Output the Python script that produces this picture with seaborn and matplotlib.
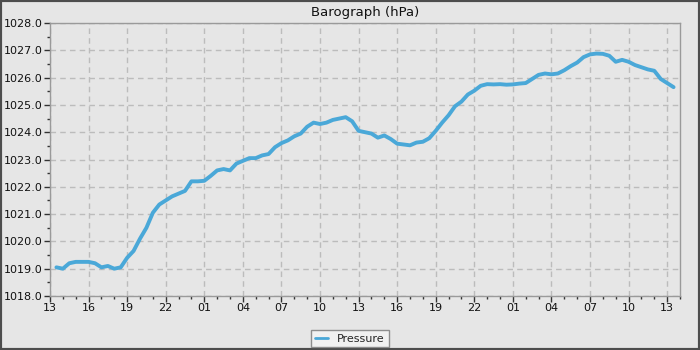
import matplotlib
matplotlib.use("Agg")
import matplotlib.pyplot as plt
import matplotlib.dates as mdates
from matplotlib.patches import Rectangle
from matplotlib.ticker import MultipleLocator, FormatStrFormatter
import seaborn as sns
import pandas as pd

# Pressure readings every 30 minutes, starting 13:30 on day 1
start_time = "2024-01-01 13:30"
pressure = [
    1019.05, 1019.0, 1019.2, 1019.25, 1019.25, 1019.25, 1019.2, 1019.05, 1019.1, 1019.0,
    1019.05, 1019.4, 1019.65, 1020.1, 1020.5, 1021.05, 1021.35, 1021.5, 1021.65, 1021.75,
    1021.85, 1022.2, 1022.2, 1022.22, 1022.4, 1022.6, 1022.65, 1022.6, 1022.85, 1022.95,
    1023.05, 1023.05, 1023.15, 1023.2, 1023.45, 1023.6, 1023.7, 1023.85, 1023.95, 1024.2,
    1024.35, 1024.3, 1024.35, 1024.45, 1024.5, 1024.55, 1024.4, 1024.05, 1024.0, 1023.95,
    1023.8, 1023.88, 1023.75, 1023.58, 1023.55, 1023.52, 1023.62, 1023.65, 1023.78, 1024.05,
    1024.35, 1024.62, 1024.95, 1025.12, 1025.38, 1025.52, 1025.7, 1025.76, 1025.75, 1025.76,
    1025.74, 1025.75, 1025.78, 1025.8, 1025.95, 1026.1, 1026.15, 1026.12, 1026.15, 1026.27,
    1026.42, 1026.55, 1026.75, 1026.85, 1026.88, 1026.87, 1026.8, 1026.58, 1026.65, 1026.58,
    1026.46, 1026.38, 1026.3, 1026.25, 1025.95, 1025.8, 1025.65,
]
series_name = "Pressure"
title = "Barograph (hPa)"

times = pd.date_range(start_time, periods=len(pressure), freq="30min")
df = pd.DataFrame({"time": times, "value": pressure, "series": series_name})

sns.set_theme(style="white")
plt.rcParams["font.family"] = ["DejaVu Sans"]

bg = "#e6e6e6"
fig = plt.figure(figsize=(7, 3.5), dpi=100, facecolor=bg)
ax = fig.add_axes([50 / 700, 1 - 296 / 350, 630 / 700, 273 / 350])
ax.set_facecolor(bg)

sns.lineplot(data=df, x="time", y="value", hue="series", palette=["#4aa8d8"],
             ax=ax, linewidth=2.8, legend=True)

ax.set_ylim(1018, 1028)
ax.yaxis.set_major_locator(MultipleLocator(1))
ax.yaxis.set_minor_locator(MultipleLocator(0.5))
ax.yaxis.set_major_formatter(FormatStrFormatter("%.1f"))

x0 = pd.Timestamp("2024-01-01 13:00")
ax.set_xlim(x0, x0 + pd.Timedelta(hours=49))
ax.xaxis.set_major_locator(mdates.HourLocator(byhour=[1, 4, 7, 10, 13, 16, 19, 22]))
ax.xaxis.set_minor_locator(mdates.HourLocator())
ax.xaxis.set_major_formatter(mdates.DateFormatter("%H"))

ax.set_xlabel("")
ax.set_ylabel("")
ax.grid(True, which="major", color="#bcbcbc", linestyle=(0, (4, 3)), linewidth=1)
ax.tick_params(which="major", direction="out", length=4, width=1, color="#333333",
               labelsize=8, labelcolor="#111111", pad=1, bottom=True, left=True)
ax.tick_params(which="minor", direction="out", length=2.5, width=1, color="#333333",
               bottom=True, left=True)
for s in ax.spines.values():
    s.set_color("#9a9a9a")
    s.set_linewidth(1)

ax.set_title(title, fontsize=9.5, pad=5, color="#111111")

handles, labels = ax.get_legend_handles_labels()
ax.get_legend().remove()
leg = fig.legend(handles, labels, loc="center", bbox_to_anchor=(0.5, 1 - 338.5 / 350),
                 frameon=True, fontsize=8, handlelength=1.2, borderpad=0.35,
                 fancybox=False, handletextpad=0.8)
leg.get_frame().set_facecolor("#f4f4f4")
leg.get_frame().set_edgecolor("#777777")
for line in leg.get_lines():
    line.set_linewidth(2)

fig.patches.append(Rectangle((0, 0), 1, 1, transform=fig.transFigure, fill=False,
                             edgecolor="#4d4d4d", linewidth=3))

fig.savefig("out.png", dpi=100, facecolor=bg)
